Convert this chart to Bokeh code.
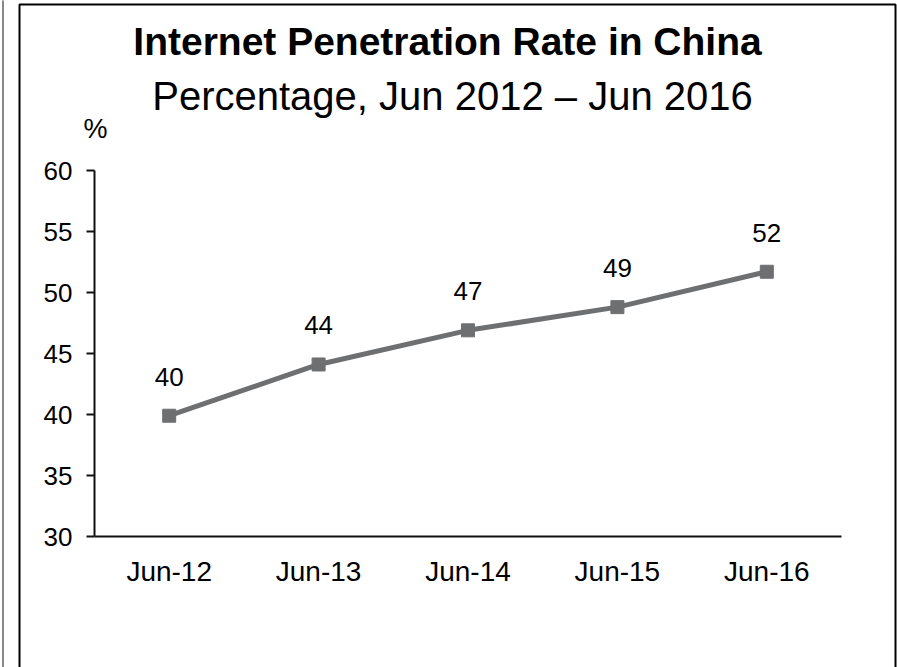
from bokeh.plotting import figure
from bokeh.models import (Range1d, Label, BoxAnnotation, ColumnDataSource,
                          FixedTicker, LinearAxis)
from bokeh.core.properties import value
from bokeh.embed import file_html
from bokeh.resources import INLINE

# Data
categories = ["Jun-12", "Jun-13", "Jun-14", "Jun-15", "Jun-16"]
rates = [39.9, 44.1, 46.9, 48.8, 51.7]
rate_labels = ["40", "44", "47", "49", "52"]
y_ticks = [30, 35, 40, 45, 50, 55, 60]

title_text = "Internet Penetration Rate in China"
subtitle_text = "Percentage, Jun 2012 \u2013 Jun 2016"
unit_text = "%"

FONT = "Liberation Sans"
LINE_COLOR = "#6e6f71"
W, H = 897, 667

# layout geometry (pixels): plot area 94..841 x 170..536
PLOT_L, PLOT_R, PLOT_T, PLOT_B = 94, 841, 170, 536
n = len(categories)
px_per_x = (PLOT_R - PLOT_L) / n
px_per_y = (PLOT_B - PLOT_T) / (y_ticks[-1] - y_ticks[0])
x_lo = -0.5 - PLOT_L / px_per_x
x_hi = -0.5 + (W - PLOT_L) / px_per_x
y_hi = y_ticks[-1] + PLOT_T / px_per_y
y_lo = y_ticks[0] - (H - PLOT_B) / px_per_y

def dx(px):
    return x_lo + px / px_per_x

def dy(py):
    return y_hi - py / px_per_y

xs = list(range(n))

p = figure(
    width=W, height=H,
    x_range=Range1d(x_lo, x_hi), y_range=Range1d(y_lo, y_hi),
    x_axis_location=None, y_axis_location=None,
    output_backend="svg", toolbar_location=None,
    min_border=0,
)
p.outline_line_color = None
p.background_fill_color = "white"
p.border_fill_color = "white"
p.xgrid.visible = False
p.ygrid.visible = False

# Axes
yaxis = LinearAxis(fixed_location=-0.5, bounds=(y_ticks[0], y_ticks[-1]),
                   ticker=FixedTicker(ticks=y_ticks))
yaxis.minor_tick_line_color = None
yaxis.major_tick_out = 8
yaxis.major_tick_in = 0
yaxis.major_tick_line_width = 2
yaxis.major_tick_line_color = "#111111"
yaxis.axis_line_width = 2
yaxis.axis_line_color = "#111111"
yaxis.major_label_standoff = 14
yaxis.major_label_text_font = FONT
yaxis.major_label_text_font_size = "26px"
yaxis.major_label_text_color = "black"
p.add_layout(yaxis, "left")

xaxis = LinearAxis(fixed_location=y_ticks[0], bounds=(-0.5, n - 0.5),
                   ticker=FixedTicker(ticks=xs),
                   major_label_overrides={i: c for i, c in enumerate(categories)})
xaxis.major_tick_out = 0
xaxis.major_tick_in = 0
xaxis.minor_tick_line_color = None
xaxis.axis_line_width = 2
xaxis.axis_line_color = "#111111"
xaxis.major_label_standoff = 19
xaxis.major_label_text_font = FONT
xaxis.major_label_text_font_size = "28px"
xaxis.major_label_text_color = "black"
p.add_layout(xaxis, "below")

src = ColumnDataSource(dict(x=xs, y=rates, t=rate_labels))
p.line("x", "y", source=src, line_color=LINE_COLOR, line_width=5)
p.scatter("x", "y", source=src, marker="square", size=13,
          fill_color=LINE_COLOR, line_color=LINE_COLOR)
p.text("x", "y", text="t", source=src, y_offset=-30,
       text_align="center", text_baseline="bottom",
       text_font=value(FONT), text_font_size="26px", text_color="black")

# Titles
p.add_layout(Label(x=dx(447), y=dy(41), text=title_text, text_align="center",
                   text_baseline="middle", text_font=FONT, text_font_size="39px",
                   text_font_style="bold", text_color="black"))
p.add_layout(Label(x=dx(452), y=dy(95), text=subtitle_text, text_align="center",
                   text_baseline="middle", text_font=FONT, text_font_size="40px",
                   text_color="black"))
p.add_layout(Label(x=dx(95), y=dy(128), text=unit_text, text_align="center",
                   text_baseline="middle", text_font=FONT, text_font_size="27px",
                   text_color="black"))

# Decorative page frame
p.add_layout(BoxAnnotation(left=dx(19), right=dx(895), top=dy(4), bottom=dy(720),
                           fill_alpha=0, line_color="black", line_alpha=1,
                           line_width=2))
p.add_layout(BoxAnnotation(left=dx(2), right=dx(3), top=dy(-5), bottom=dy(720),
                           fill_color="#888888", fill_alpha=1, line_color="#888888",
                           line_alpha=1, line_width=1))

open("out.html", "w").write(file_html(p, INLINE))
